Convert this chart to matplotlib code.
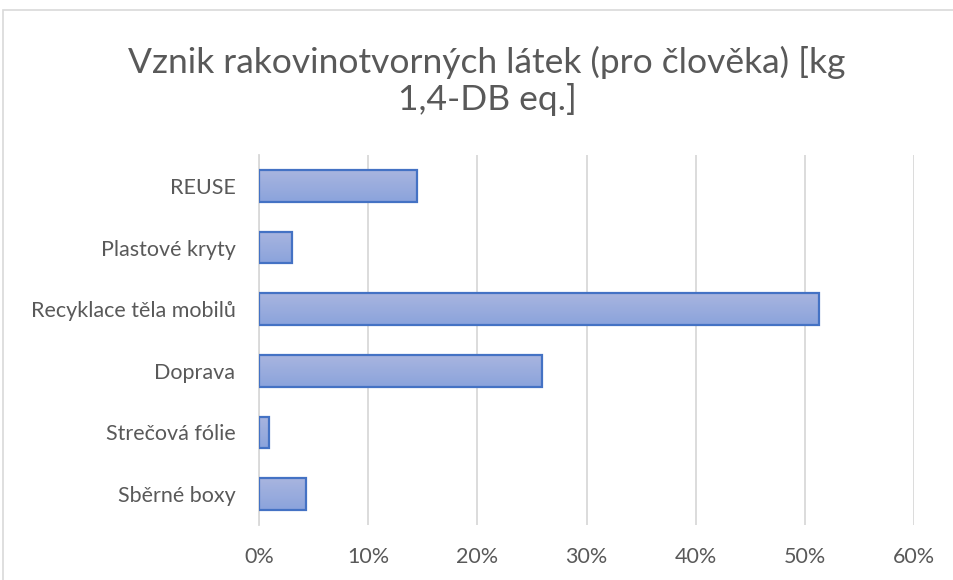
import matplotlib
matplotlib.use("Agg")
import matplotlib.pyplot as plt
from matplotlib.patches import Rectangle
import numpy as np

categories = ["REUSE", "Plastové kryty", "Recyklace těla mobilů",
              "Doprava", "Strečová fólie", "Sběrné boxy"]
values = [14.5, 3.06, 51.3, 25.9, 0.88, 4.3]
xticks = [0, 10, 20, 30, 40, 50, 60]

plt.rcParams['font.family'] = ['Lato', 'DejaVu Sans']
txt = '#595959'

fig = plt.figure(figsize=(9.54, 5.80), dpi=100)
ax = fig.add_axes([259/954, 55/580, (914-259)/954, 370/580])

y = np.arange(len(categories))
bars = ax.barh(y, values, height=0.51, color='none', edgecolor='#4472c4',
               linewidth=1.6, zorder=3)

# vertical gradient fill, lighter at top
grad = np.linspace(0, 1, 100).reshape(-1, 1)
cmap = matplotlib.colors.LinearSegmentedColormap.from_list('g', ['#a9b5df', '#8aa3dc'])
for b in bars:
    x0, y0 = b.get_x(), b.get_y()
    w, h = b.get_width(), b.get_height()
    im = ax.imshow(grad, extent=[x0, x0 + w, y0 + h, y0], cmap=cmap,
                   aspect='auto', zorder=2, origin='upper')
    im.set_clip_path(b)

ax.set_xlim(0, 60)
ax.set_ylim(len(categories) - 0.5, -0.5)
ax.set_xticks(xticks)
ax.set_xticklabels([f"{t}%" for t in xticks])
ax.set_yticks(y)
ax.set_yticklabels(categories)
ax.grid(axis='x', color='#d9d9d9', linewidth=1.3, zorder=0)
ax.set_axisbelow(True)
for s in ['top', 'right', 'bottom']:
    ax.spines[s].set_visible(False)
ax.spines['left'].set_color('#d9d9d9')
ax.spines['left'].set_linewidth(1.3)
ax.tick_params(length=0, labelsize=15.5, colors=txt)
ax.tick_params(axis='x', pad=16)
ax.tick_params(axis='y', pad=17)

fig.text(487/954, 1 - 81/580, "Vznik rakovinotvorných látek (pro člověka) [kg\n1,4-DB eq.]",
         ha='center', va='center', fontsize=25.5, color=txt, linespacing=1.12)

fig.patches.append(Rectangle((3/954, -0.1), 1.2, 1.1 - 10/580, transform=fig.transFigure,
                             fill=False, edgecolor='#d9d9d9', linewidth=1.2))

fig.savefig('out.png', dpi=100)
